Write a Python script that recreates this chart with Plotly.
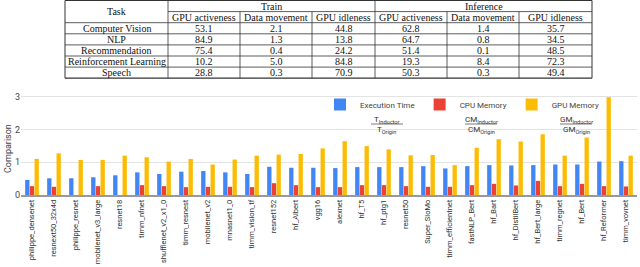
import plotly.graph_objects as go

# ---------------- data ----------------
tasks = ["Computer Vision", "NLP", "Recommendation", "Reinforcement Learning", "Speech"]
train_active = [53.1, 84.9, 75.4, 10.2, 28.8]
train_move = [2.1, 1.3, 0.4, 5.0, 0.3]
train_idle = [44.8, 13.8, 24.2, 84.8, 70.9]
inf_active = [62.8, 64.7, 51.4, 19.3, 50.3]
inf_move = [1.4, 0.8, 0.1, 8.4, 0.3]
inf_idle = [35.7, 34.5, 48.5, 72.3, 49.4]
sub_headers = ["GPU activeness", "Data movement", "GPU idleness"]
group_headers = ["Train", "Inference"]

models = ["philippe_densenet", "resnext50_32x4d", "philippe_resnet", "mobilenet_v3_large",
          "resnet18", "timm_nfnet", "shufflenet_v2_x1_0", "timm_resnest", "mobilenet_v2",
          "mnasnet1_0", "timm_vision_tf", "resnet152", "hf_Albert", "vgg16", "alexnet",
          "hf_T5", "hf_ptg1", "resnet50", "Super_SloMo", "timm_efficientnet", "fastNLP_Bert",
          "hf_Bart", "hf_DistilBert", "hf_Bert_large", "timm_regnet", "hf_Bert",
          "hf_Reformer", "timm_vovnet"]
exec_time = [0.46, 0.51, 0.51, 0.54, 0.60, 0.69, 0.64, 0.71, 0.73, 0.69, 0.64, 0.86, 0.83, 0.83,
             0.82, 0.85, 0.85, 0.85, 0.88, 0.81, 0.88, 0.91, 0.90, 0.91, 0.93, 0.93, 1.02, 1.03]
cpu_mem = [0.27, 0.25, None, 0.27, None, 0.30, 0.27, 0.24, 0.25, 0.25, 0.24, 0.36, 0.30, 0.24,
           0.24, 0.30, 0.30, 0.27, 0.25, 0.25, 0.30, 0.34, 0.29, 0.43, 0.27, 0.34, 0.27, 0.26]
gpu_mem = [1.10, 1.27, 1.07, 1.07, 1.20, 1.15, 1.02, 1.10, 0.93, 1.08, 1.20, 1.23, 1.25, 1.42,
           1.64, 1.49, 1.39, 1.21, 1.22, 0.91, 1.44, 1.70, 1.63, 1.85, 1.20, 1.75, 2.98, 1.20]
series_names = ["Execution Time", "CPU Memory", "GPU Memory"]
frac_names = ["T", "CM", "GM"]

# ---------------- layout helpers ----------------
W, H = 640, 267
ML, MR, MT, MB = 21, 3, 0, 72
PW, PH = W - ML - MR, H - MT - MB


def xp(px):
    return (px - ML) / PW


def yp(py):
    return (PH + MT - py) / PH


fig = go.Figure()
colors = ["#4285F4", "#EA4335", "#FBBC04"]
for name, vals, c in zip(series_names, [exec_time, cpu_mem, gpu_mem], colors):
    fig.add_trace(go.Bar(x=models, y=vals, name=name, marker=dict(color=c, line=dict(width=0))))

annotations = []
shapes = []

# ---------------- table ----------------
col_x = [65, 168, 240, 312, 375, 447, 519, 592]
row_y = [0.5, 11.6, 22.7, 33.8, 44.9, 56.0, 67.1, 78.2]
tfont = dict(family="Liberation Serif", size=10, color="#111")
line_c = "#333"


def hline(x0, x1, y, w=0.8):
    shapes.append(dict(type="line", xref="paper", yref="paper", x0=xp(x0), x1=xp(x1),
                       y0=yp(y), y1=yp(y), line=dict(color=line_c, width=w)))


def vline(x, y0, y1, w=0.8):
    shapes.append(dict(type="line", xref="paper", yref="paper", x0=xp(x), x1=xp(x),
                       y0=yp(y0), y1=yp(y1), line=dict(color=line_c, width=w)))


def cell(text, x, y):
    annotations.append(dict(text=text, x=xp(x), y=yp(y), xref="paper", yref="paper",
                            showarrow=False, font=tfont, xanchor="center", yanchor="middle"))


hline(col_x[0], col_x[-1], row_y[0], 1)
hline(col_x[1], col_x[-1], row_y[1])
for r in row_y[2:-1]:
    hline(col_x[0], col_x[-1], r)
hline(col_x[0], col_x[-1], row_y[-1], 1.2)
vline(col_x[0], row_y[0], row_y[-1], 1)
vline(col_x[-1], row_y[0], row_y[-1], 1)
vline(col_x[1], row_y[0], row_y[-1])
vline(col_x[4], row_y[0], row_y[-1])
for i in (2, 3, 5, 6):
    vline(col_x[i], row_y[1], row_y[-1])

cell("Task", (col_x[0] + col_x[1]) / 2, (row_y[0] + row_y[2]) / 2)
cell(group_headers[0], (col_x[1] + col_x[4]) / 2, (row_y[0] + row_y[1]) / 2)
cell(group_headers[1], (col_x[4] + col_x[7]) / 2, (row_y[0] + row_y[1]) / 2)
for k, h in enumerate(sub_headers + sub_headers):
    cell(h, (col_x[k + 1] + col_x[k + 2]) / 2, (row_y[1] + row_y[2]) / 2)
cols = [train_active, train_move, train_idle, inf_active, inf_move, inf_idle]
for r, t in enumerate(tasks):
    yc = (row_y[r + 2] + row_y[r + 3]) / 2
    cell(t, (col_x[0] + col_x[1]) / 2, yc)
    for k, col in enumerate(cols):
        cell(f"{col[r]:.1f}", (col_x[k + 1] + col_x[k + 2]) / 2, yc)

# ---------------- chart extras ----------------
annotations.append(dict(text="Comparison", x=xp(8), y=yp(149), xref="paper", yref="paper",
                        showarrow=False, textangle=-90, xanchor="center", yanchor="middle",
                        font=dict(family="Roboto", size=9, color="#444")))

frac_x = [387, 481, 576]
ffont = dict(family="Roboto", size=8, color="#333")
for fx, fn in zip(frac_x, frac_names):
    annotations.append(dict(text=f"{fn}<sub>Inductor</sub><br>{fn}<sub>Origin</sub>",
                            x=xp(fx), y=yp(125), xref="paper", yref="paper", showarrow=False,
                            font=ffont, xanchor="center", yanchor="middle"))
    shapes.append(dict(type="line", xref="paper", yref="paper", x0=xp(fx - 16), x1=xp(fx + 16),
                       y0=yp(124), y1=yp(124), line=dict(color="#555", width=0.8)))

fig.update_layout(
    width=W, height=H,
    margin=dict(l=ML, r=MR, t=MT, b=MB, autoexpand=False),
    paper_bgcolor="white", plot_bgcolor="white",
    barmode="group", bargap=0.36, bargroupgap=0.08,
    font=dict(family="Roboto", size=9, color="#444"),
    showlegend=True,
    legend=dict(orientation="h", x=xp(604), xanchor="right", y=yp(90), yanchor="top",
                bgcolor="rgba(0,0,0,0)", font=dict(family="Roboto", size=8, color="#444"),
                itemwidth=30, traceorder="normal"),
    xaxis=dict(tickangle=-90, tickfont=dict(family="Roboto", size=7.5, color="#333"),
               showline=True, linecolor="#999", linewidth=1.5, showgrid=False, ticks="",
               automargin=False),
    yaxis=dict(domain=[0, yp(90)], range=[0, 3.2], tickvals=[0, 1, 2, 3],
               gridcolor="#e3e3e3", gridwidth=1, zeroline=False, ticks="",
               tickfont=dict(family="Roboto", size=9, color="#444"), automargin=False),
    annotations=annotations, shapes=shapes,
)
fig.write_html("out.html", config={"displayModeBar": False},
               post_script="document.body.style.margin='0';document.body.style.overflow='hidden';")
